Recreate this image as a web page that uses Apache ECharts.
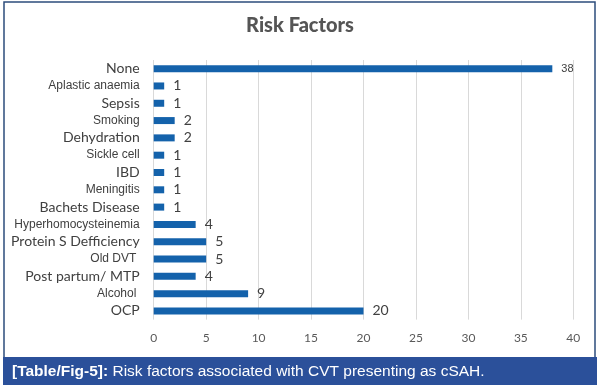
<!DOCTYPE html>
<html>
<head>
<meta charset="utf-8">
<script src="https://cdn.jsdelivr.net/npm/echarts@6/dist/echarts.min.js"></script>
<style>html,body{margin:0;padding:0;background:#fff}#c{width:600px;height:390px}</style>
</head>
<body>
<div id="c"></div>
<script>
const categories = ['None','Aplastic anaemia','Sepsis','Smoking','Dehydration','Sickle cell','IBD','Meningitis','Bachets Disease','Hyperhomocysteinemia','Protein S Defficiency','Old DVT ','Post partum/ MTP','Alcohol ','OCP'];
const values = [38,1,1,2,2,1,1,1,1,4,5,5,4,9,20];
const xTicks = [0,5,10,15,20,25,30,35,40];
// font style key per category label ('c' = Calibri-like, 'a' = Arial-like)
const catStyle = ['c','a','c','a','c','a','c','a','c','a','c','a','c','a','c'];
const valStyle = ['a','c','c','c','c','c','c','c','c','c','c','c','c','c','c'];

const chart = echarts.init(document.getElementById('c'));
chart.setOption({
  backgroundColor:'#fff',
  animation:false,
  title:{text:'Risk Factors',left:'center',top:11,textStyle:{fontFamily:'Lato',fontWeight:900,fontSize:20,color:'#555'}},
  grid:{left:153.7,right:26.7,top:60,bottom:70.4},
  xAxis:{type:'value',min:xTicks[0],max:xTicks[xTicks.length-1],interval:5,
    axisLine:{show:false},axisTick:{show:false},
    splitLine:{lineStyle:{color:'#d9d9d9',width:1}},
    axisLabel:{margin:13,color:'#595959',fontFamily:'Lato',fontSize:12}},
  yAxis:{type:'category',data:categories,inverse:true,
    axisLine:{show:false},axisTick:{show:false},
    axisLabel:{margin:14,
      formatter:(v,i)=>'{'+catStyle[i]+'|'+v+'}',
      rich:{c:{fontFamily:'Lato',fontSize:14,color:'#404040'},a:{fontFamily:'Liberation Sans',fontSize:12,color:'#404040'}}}},
  series:[{type:'bar',data:values,barWidth:7,itemStyle:{color:'#1462ab'},
    label:{show:true,position:'right',distance:9,
      formatter:p=>'{'+valStyle[p.dataIndex]+'|'+p.value+'}',
      rich:{c:{fontFamily:'Lato',fontSize:14,color:'#404040'},a:{fontFamily:'Liberation Sans',fontSize:11,color:'#404040'}}}}],
  graphic:[
    {type:'rect',shape:{x:4,y:2,width:591,height:356},style:{fill:'none',stroke:'#2d4c7c',lineWidth:1.5},z:0},
    {type:'rect',shape:{x:3,y:357,width:594,height:28},style:{fill:'#2b509a'},z:1},
    {type:'text',x:12,y:372,style:{text:'{b|[Table/Fig-5]:} Risk factors associated with CVT presenting as cSAH.',
      fill:'#fff',font:'15.5px "Liberation Sans"',verticalAlign:'middle',
      rich:{b:{fontWeight:'bold',fontSize:15.5,fontFamily:'Liberation Sans',fill:'#fff'}}},z:2}
  ]
});
</script>
</body>
</html>
